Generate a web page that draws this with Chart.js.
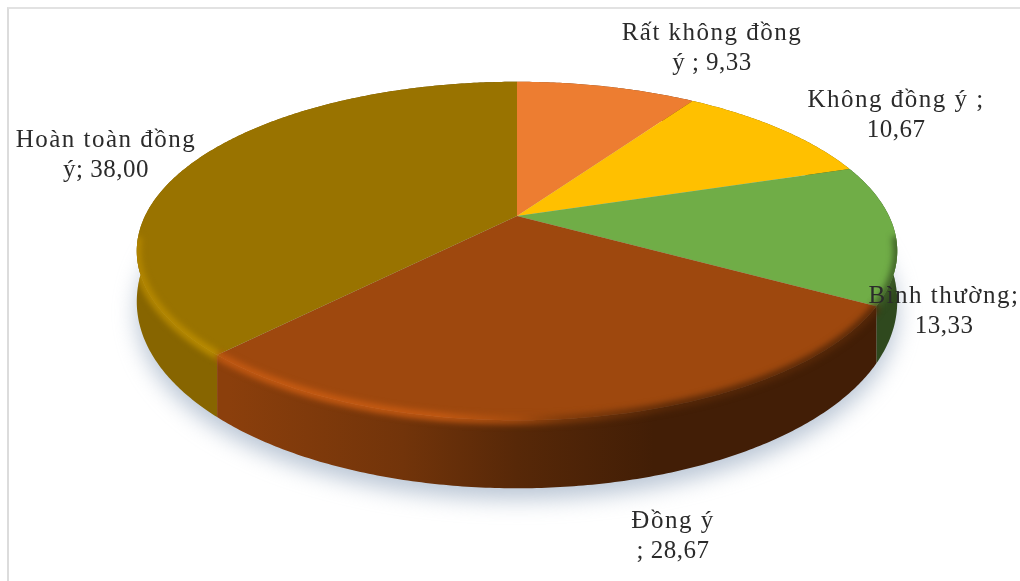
<!DOCTYPE html>
<html>
<head>
<meta charset="utf-8">
<title>Biểu đồ mức độ đồng ý</title>
<script src="https://cdn.jsdelivr.net/npm/chart.js@4/dist/chart.umd.min.js"></script>
<style>
    html, body { margin: 0; padding: 0; background: #fff; overflow: hidden; }
    #wrap { position: relative; width: 1020px; height: 581px; }
    #frame { position: absolute; left: 7px; top: 7px; right: 0; bottom: 0; border-left: 2px solid #dcdcdc; border-top: 2px solid #e2e2e2; }
</style>
</head>
<body>
<div id="wrap">
    <canvas id="chart-pie" width="1020" height="581"></canvas>
    <div id="frame"></div>
</div>
<script>
var categories = ['Rất không đồng ý', 'Không đồng ý', 'Bình thường', 'Đồng ý', 'Hoàn toàn đồng ý'];
var values = [9.33, 10.67, 13.33, 28.67, 38.00];
var colors = ['#ed7d31', '#ffc000', '#70ad47', '#9e480e', '#997300'];

// label text, split where it wraps
var labelHeads = ['Rất không đồng', 'Không đồng ý ;', 'Bình thường;', 'Đồng ý', 'Hoàn toàn đồng'];
var labelTails = ['ý ; ', '', '', '; ', 'ý; '];
var labelCenterX = [712, 896, 944, 673, 106];
var labelBaseY = [40, 107, 303, 528, 147];

// tilted disc: apex on screen, half axes, perspective strength
var apexX = 517, apexY = 216, axisX = 372, axisY = 162, persp = 0.207;
var leftEdge = 137, rightEdge = 897;

function project(t, r) {
    var u = Math.cos(t) * r;
    var v = Math.sin(t) * r;
    var w = 1 - persp * v;
    return { x: apexX + axisX * u / w, y: apexY + axisY * v / w, v: v };
}

function depth(t) {
    return 46 + 22 * Math.sin(t);
}

function rimPoints(start, end, r, lowered) {
    var pts = [];
    var n = Math.max(2, Math.ceil((end - start) / 0.01));
    for (var i = 0; i <= n; i++) {
        var t = start + (end - start) * i / n;
        var p = project(t, r);
        pts.push({ x: p.x, y: p.y + (lowered ? depth(t) : 0), v: p.v });
    }
    return pts;
}

function tracePoints(ctx, pts, move) {
    pts.forEach(function (p, i) {
        if (i === 0 && move) ctx.moveTo(p.x, p.y);
        else ctx.lineTo(p.x, p.y);
    });
}

function shade(hex, f) {
    var n = parseInt(hex.slice(1), 16);
    var r = Math.min(255, Math.round((n >> 16 & 255) * f));
    var g = Math.min(255, Math.round((n >> 8 & 255) * f));
    var b = Math.min(255, Math.round((n & 255) * f));
    return 'rgb(' + r + ',' + g + ',' + b + ')';
}

function sideGradient(ctx, color, stops) {
    var grad = ctx.createLinearGradient(leftEdge, 0, rightEdge, 0);
    stops.forEach(function (s) {
        grad.addColorStop(s[0], shade(color, s[1]));
    });
    return grad;
}

var wallStops = [[0, 0.88], [0.12, 0.88], [0.35, 0.72], [0.5, 0.55], [0.68, 0.42], [1, 0.42]];
var bevelStops = [[0, 1.18], [0.2, 1.28], [0.4, 1.25], [0.5, 1.05], [0.56, 0.8], [0.7, 0.55], [1, 0.55]];

// draws the slices as a tilted disc, using the angles the pie controller worked out
var discPlugin = {
    id: 'disc',
    beforeDatasetsDraw: function (chart) {
        var ctx = chart.ctx;
        var arcs = chart.getDatasetMeta(0).data;
        var full0 = -Math.PI / 2, full1 = full0 + Math.PI * 2;

        ctx.save();

        // soft shadow under the disc
        ctx.save();
        ctx.filter = 'blur(11px)';
        ctx.fillStyle = 'rgba(140,160,185,0.6)';
        ctx.translate(0, 11);
        ctx.beginPath();
        tracePoints(ctx, rimPoints(full0, full1, 1, true), true);
        ctx.closePath();
        ctx.fill();
        ctx.restore();

        // side walls, front slice last
        [0, 1, 2, 4, 3].forEach(function (i) {
            var a = arcs[i];
            ctx.fillStyle = sideGradient(ctx, colors[i], wallStops);
            ctx.beginPath();
            tracePoints(ctx, rimPoints(a.startAngle, a.endAngle, 1, false), true);
            tracePoints(ctx, rimPoints(a.startAngle, a.endAngle, 1, true).reverse(), false);
            ctx.closePath();
            ctx.fill();
        });

        // top faces
        arcs.forEach(function (a, i) {
            ctx.fillStyle = colors[i];
            ctx.beginPath();
            ctx.moveTo(apexX, apexY);
            tracePoints(ctx, rimPoints(a.startAngle, a.endAngle, 1, false), false);
            ctx.closePath();
            ctx.fill();
        });

        // rounded rim on the top edge, lit on the left and dark on the right
        ctx.save();
        ctx.beginPath();
        tracePoints(ctx, rimPoints(full0, full1, 1, false), true);
        ctx.closePath();
        tracePoints(ctx, rimPoints(full0, full1, 1, true), true);
        ctx.closePath();
        ctx.clip();
        ctx.filter = 'blur(3px)';
        ctx.lineWidth = 8;
        arcs.forEach(function (a, i) {
            var pts = rimPoints(a.startAngle, a.endAngle, 1, false).filter(function (p) {
                return p.v > 0.12;
            });
            if (pts.length < 2) return;
            ctx.strokeStyle = sideGradient(ctx, colors[i], bevelStops);
            ctx.beginPath();
            tracePoints(ctx, pts, true);
            ctx.stroke();
        });
        ctx.restore();

        ctx.restore();
        return false;
    },
    afterDraw: function (chart) {
        var ctx = chart.ctx;
        ctx.save();
        ctx.font = '25px "Liberation Serif"';
        ctx.fillStyle = '#2b2b2b';
        ctx.textAlign = 'center';
        values.forEach(function (val, i) {
            var second = labelTails[i] + val.toFixed(2).replace('.', ',');
            ctx.letterSpacing = '1.5px';
            ctx.fillText(labelHeads[i], labelCenterX[i], labelBaseY[i]);
            ctx.letterSpacing = '0.5px';
            ctx.fillText(second, labelCenterX[i], labelBaseY[i] + 30);
        });
        ctx.restore();
    }
};

var pie_config = {
    type: 'pie',
    data: {
        labels: categories,
        datasets: [{
            data: values,
            backgroundColor: colors
        }]
    },
    options: {
        responsive: false,
        animation: false,
        plugins: {
            legend: { display: false },
            tooltip: { enabled: false }
        }
    },
    plugins: [discPlugin]
};

var pieChart = document.getElementById('chart-pie').getContext('2d');
window.myPie = new Chart(pieChart, pie_config);
</script>
</body>
</html>
